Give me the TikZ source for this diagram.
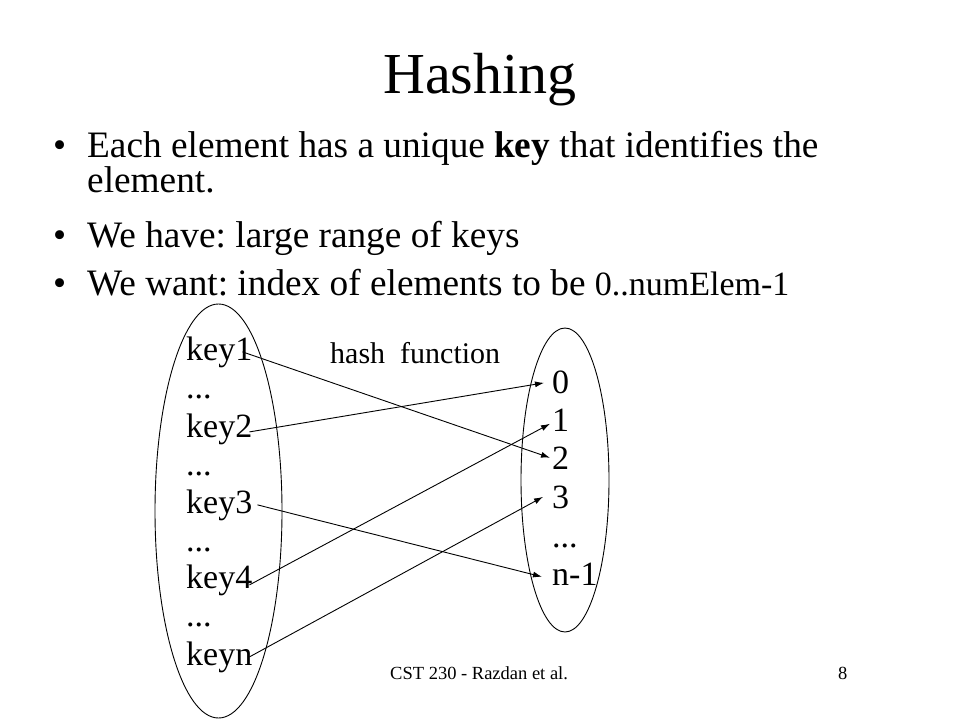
\documentclass[tikz,border=0pt]{standalone}
\usepackage{fontspec}
\setmainfont{Liberation Serif}
\usetikzlibrary{arrows.meta,shapes.geometric}
\frenchspacing
\begin{document}
\begin{tikzpicture}[x=1pt,y=-1pt,
  txt/.style={inner sep=0pt,anchor=base west},
  bul/.style={txt,font=\fontsize{37.3}{40}\selectfont},
  keytxt/.style={txt,font=\fontsize{34}{38}\selectfont},
  hashlbl/.style={txt,font=\fontsize{30}{34}\selectfont},
  foot/.style={txt,font=\fontsize{18.5}{22}\selectfont},
  setring/.style={draw=black,line width=0.9pt,ellipse,inner sep=0pt},
  maparrow/.style={draw=black,line width=0.9pt,-{Latex[length=9pt,width=6pt]}}]
\useasboundingbox (0,0) rectangle (960,720);
\fill[white] (0,0) rectangle (960,720);
% title
\node[inner sep=0pt,anchor=base,font=\fontsize{58}{62}\selectfont] (title) at (480,93) {Hashing};
% bullets
\node[bul] (b1) at (53,157) {\textbullet};
\node[bul] (t1) at (87,157) {Each element has a unique \textbf{key} that identifies the};
\node[bul] (t1b) at (87,192) {element.};
\node[bul] (b2) at (53,247) {\textbullet};
\node[bul] (t2) at (87,247) {We have: large range of keys};
\node[bul] (b3) at (53,295) {\textbullet};
\node[bul] (t3) at (87,295) {We want: index of elements to be {\fontsize{34}{38}\selectfont 0..numElem-1}};
% sets
\node[setring,minimum width=127pt,minimum height=414pt] (keyset) at (218.5,511) {};
\node[setring,minimum width=88pt,minimum height=304pt] (idxset) at (565,480) {};
% keys
\node[keytxt] (k1) at (186,360) {key1};
\node[keytxt] (kd1) at (186,398) {...};
\node[keytxt] (k2) at (186,437) {key2};
\node[keytxt] (kd2) at (186,475) {...};
\node[keytxt] (k3) at (186,513) {key3};
\node[keytxt] (kd3) at (186,551) {...};
\node[keytxt] (k4) at (186,588) {key4};
\node[keytxt] (kd4) at (186,626) {...};
\node[keytxt] (kn) at (186,665) {keyn};
% indices
\node[keytxt] (d0) at (552,393) {0};
\node[keytxt] (d1) at (552,431) {1};
\node[keytxt] (d2) at (552,469) {2};
\node[keytxt] (d3) at (552,508) {3};
\node[keytxt] (dd) at (552,547) {...};
\node[keytxt] (dn) at (552,585) {n-1};
% label
\node[hashlbl] (hf) at (330,363) {hash\ \ function};
% arrows
\draw[maparrow] ([xshift=-10pt]k1.east) -- ([xshift=-2pt]d2.west);
\draw[maparrow] ([xshift=-3pt,yshift=-3pt]k2.east) -- ([xshift=-8pt,yshift=-1pt]d0.west);
\draw[maparrow] ([xshift=5pt]k3.east) -- ([xshift=-10pt,yshift=-3pt]dn.west);
\draw[maparrow] ([xshift=-3pt,yshift=-5pt]k4.east) -- ([xshift=-2pt,yshift=-4pt]d1.west);
\draw[maparrow] ([xshift=-3pt]kn.east) -- ([xshift=-9pt]d3.west);
% footer
\node[foot] (ft) at (390,679) {CST 230 - Razdan et al.};
\node[foot] (pg) at (838,679) {8};
\end{tikzpicture}
\end{document}
